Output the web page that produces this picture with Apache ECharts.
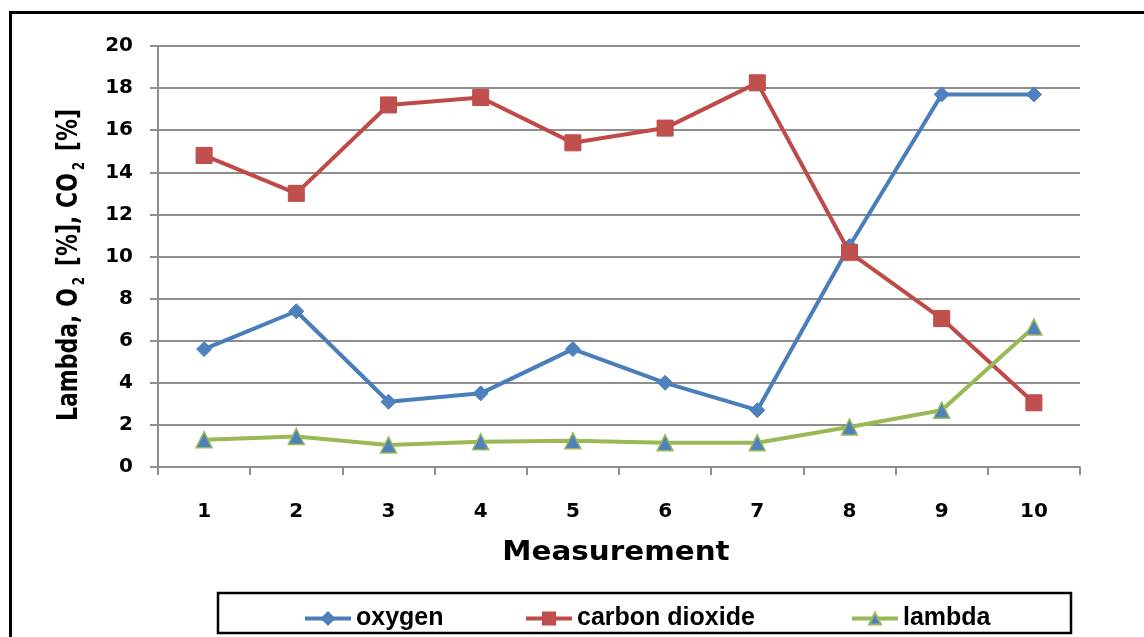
<!DOCTYPE html>
<html>
<head>
<meta charset="utf-8">
<script src="https://cdn.jsdelivr.net/npm/echarts@6/dist/echarts.min.js"></script>
<style>
  html, body { margin: 0; padding: 0; background: #fff; }
  #chart { width: 1144px; height: 637px; }
</style>
</head>
<body>
<div id="chart"></div>
<script>
const categories = ['1', '2', '3', '4', '5', '6', '7', '8', '9', '10'];
const oxygen = [5.6, 7.4, 3.1, 3.5, 5.6, 4.0, 2.7, 10.5, 17.7, 17.7];
const carbonDioxide = [14.8, 13.0, 17.2, 17.55, 15.4, 16.1, 18.25, 10.2, 7.05, 3.05];
const lambda = [1.3, 1.45, 1.05, 1.2, 1.25, 1.15, 1.15, 1.9, 2.7, 6.65];
const yTicks = { min: 0, max: 20, interval: 2 };
const seriesNames = ['oxygen', 'carbon dioxide', 'lambda'];
const xTitle = 'Measurement';

const chart = echarts.init(document.getElementById('chart'), null, { renderer: 'canvas' });
const gray = '#8e8e8e';
const tickFont = { fontFamily: 'DejaVu Sans', fontWeight: 'bold', fontSize: 20, color: '#000' };
const legendText = { fontFamily: 'Liberation Sans', fontWeight: 'bold', fontSize: 25, color: '#000' };
const legendLefts = [298, 519, 845];

const option = {
  backgroundColor: '#fff',
  animation: false,
  grid: { left: 158, right: 64, top: 46, bottom: 170, containLabel: false },
  xAxis: {
    type: 'category',
    data: categories,
    boundaryGap: true,
    axisLine: { lineStyle: { color: gray, width: 2 } },
    axisTick: { show: true, length: 8, inside: false, alignWithLabel: false, lineStyle: { color: gray, width: 2 } },
    axisLabel: Object.assign({ margin: 35 }, tickFont),
    splitLine: { show: false }
  },
  yAxis: {
    type: 'value',
    min: yTicks.min,
    max: yTicks.max,
    interval: yTicks.interval,
    axisLine: { show: true, lineStyle: { color: gray, width: 2 } },
    axisTick: { show: true, length: 8, lineStyle: { color: gray, width: 2 } },
    axisLabel: Object.assign({ margin: 25 }, tickFont),
    splitLine: { show: true, lineStyle: { color: gray, width: 2 } }
  },
  legend: seriesNames.map((name, i) => ({
    left: legendLefts[i],
    top: 601,
    itemWidth: 46,
    itemHeight: 15,
    itemGap: 10,
    lineStyle: { width: 4 },
    textStyle: legendText,
    data: [name]
  })),
  series: [
    {
      name: seriesNames[0], type: 'line', data: oxygen,
      symbol: 'diamond', symbolSize: 15,
      lineStyle: { color: '#4A7EBB', width: 4 },
      itemStyle: { color: '#4F81BD', borderColor: '#4A7EBB', borderWidth: 1 },
      z: 3
    },
    {
      name: seriesNames[1], type: 'line', data: carbonDioxide,
      symbol: 'rect', symbolSize: 16,
      lineStyle: { color: '#BE4B48', width: 4 },
      itemStyle: { color: '#C0504D', borderColor: '#BE4B48', borderWidth: 1 },
      z: 4
    },
    {
      name: seriesNames[2], type: 'line', data: lambda,
      symbol: 'triangle', symbolSize: 16,
      lineStyle: { color: '#98B954', width: 4 },
      itemStyle: { color: '#4F81BD', borderColor: '#9BBB59', borderWidth: 1.5 },
      z: 5
    }
  ],
  graphic: [
    { type: 'line', shape: { x1: 9, y1: 12.5, x2: 1144, y2: 12.5 }, style: { stroke: '#000', lineWidth: 3 }, silent: true },
    { type: 'line', shape: { x1: 10.5, y1: 11, x2: 10.5, y2: 637 }, style: { stroke: '#000', lineWidth: 3 }, silent: true },
    { type: 'rect', shape: { x: 218, y: 593, width: 853, height: 40 }, style: { fill: 'none', stroke: '#000', lineWidth: 2.5 }, silent: true, z: -1 },
    {
      type: 'text', x: 616, y: 553, scaleX: 1.13, scaleY: 1,
      style: { text: xTitle, fontFamily: 'DejaVu Sans', fontWeight: 'bold', fontSize: 26, fill: '#000', align: 'center', verticalAlign: 'middle' },
      silent: true
    },
    {
      type: 'text', x: 70, y: 265, rotation: Math.PI / 2, scaleX: 1.0, scaleY: 1.3,
      style: {
        text: '{n|Lambda, O}{s|2}{n| [%], CO}{s|2}{n| [%]}',
        align: 'center', verticalAlign: 'middle', fill: '#000',
        rich: {
          n: { fontFamily: 'DejaVu Sans', fontWeight: 'bold', fontSize: 22, lineHeight: 28, fill: '#000' },
          s: { fontFamily: 'DejaVu Sans', fontWeight: 'bold', fontSize: 12, lineHeight: 28, verticalAlign: 'bottom', padding: [0, 3, 0, 3], fill: '#000' }
        }
      },
      silent: true
    }
  ]
};
chart.setOption(option);
</script>
</body>
</html>
